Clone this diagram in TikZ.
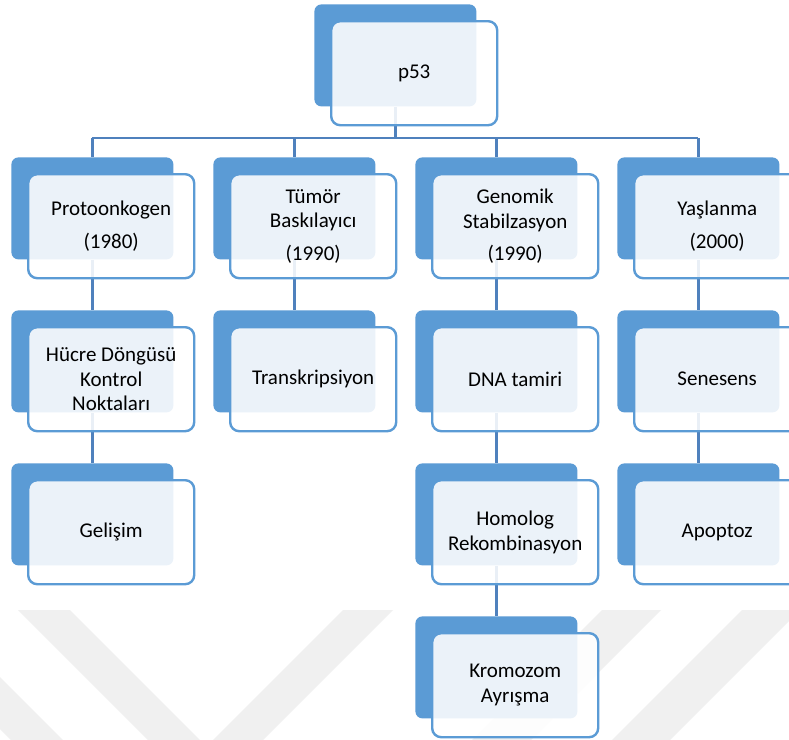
\documentclass[tikz,border=0pt]{standalone}
\usepackage{fontspec}
\setmainfont{Carlito}
\definecolor{accent}{HTML}{5B9BD5}
\definecolor{linkc}{HTML}{4F81BD}
\definecolor{wmark}{HTML}{F0F0F0}
\pgfdeclarelayer{wm}
\pgfdeclarelayer{bg}
\pgfsetlayers{wm,bg,main}

% one org-chart unit: blue back plate, translucent front card, centred label
\newcommand\orgunit[4]{%
  \node[back, anchor=north west] (#1b) at (#2,#3) {};
  \node[front, anchor=north west] (#1) at (#2+16,#3+16) {};
  \node[label] (#1t) at (#1.center) {#4};
}

\begin{document}
\begin{tikzpicture}[x=0.5pt,y=-0.5pt,
  back/.style={fill=accent, rounded corners=3.5pt, inner sep=0pt,
    minimum width=81pt, minimum height=51pt},
  front/.style={draw=accent, line width=1.2pt, fill=white, fill opacity=0.88,
    rounded corners=4.5pt, inner sep=0pt, minimum width=83pt, minimum height=52pt},
  label/.style={font=\fontsize{10.5}{12.2}\selectfont, align=center, text=black},
  link/.style={draw=linkc, line width=1.3pt},
  wm/.style={fill=wmark}]

\useasboundingbox (0,0) rectangle (789,740);

% page background and faint bands
\begin{pgfonlayer}{wm}
  \fill[white] (0,0) rectangle (789,740);
  \fill[wm] (18,610) -- (70,610) -- (210,750) -- (158,750) -- cycle;
  \fill[wm] (343,610) -- (393,610) -- (253,750) -- (203,750) -- cycle;
  \fill[wm] (602,610) -- (661,610) -- (521,750) -- (462,750) -- cycle;
  \fill[wm] (742,610) -- (800,610) -- (660,750) -- (602,750) -- cycle;
  \fill[wm] (-119,610) -- (-67,610) -- (73,750) -- (21,750) -- cycle;
\end{pgfonlayer}

% units
\orgunit{p53}{314}{4}{p53}
\orgunit{proto}{11}{157}{Protoonkogen\\[4pt](1980)}
\orgunit{tumor}{213}{157}{Tümör\\Baskılayıcı\\[4pt](1990)}
\orgunit{genom}{415}{157}{Genomik\\Stabilzasyon\\[4pt](1990)}
\orgunit{yas}{617}{157}{Yaşlanma\\[4pt](2000)}
\orgunit{hucre}{11}{310}{Hücre Döngüsü\\Kontrol\\Noktaları}
\orgunit{trans}{213}{310}{Transkripsiyon}
\orgunit{dna}{415}{310}{DNA tamiri}
\orgunit{sen}{617}{310}{Senesens}
\orgunit{gel}{11}{463}{Gelişim}
\orgunit{homo}{415}{463}{Homolog\\Rekombinasyon}
\orgunit{apo}{617}{463}{Apoptoz}
\orgunit{krom}{415}{616}{Kromozom\\Ayrışma}

% connectors, kept behind the cards
\begin{pgfonlayer}{bg}
  \coordinate (bar) at (0,138);
  \draw[link] (p53b.south) -- (p53b.south |- bar);
  \draw[link] (protob.north |- bar) -- (yasb.north |- bar);
  \foreach \c in {proto,tumor,genom,yas}
    \draw[link] (\c b.north |- bar) -- (\c b.north);
  \draw[link] (protob.south) -- (hucreb.north);
  \draw[link] (hucreb.south) -- (gelb.north);
  \draw[link] (tumorb.south) -- (transb.north);
  \draw[link] (genomb.south) -- (dnab.north);
  \draw[link] (dnab.south) -- (homob.north);
  \draw[link] (homob.south) -- (kromb.north);
  \draw[link] (yasb.south) -- (senb.north);
  \draw[link] (senb.south) -- (apob.north);
\end{pgfonlayer}
\end{tikzpicture}
\end{document}
